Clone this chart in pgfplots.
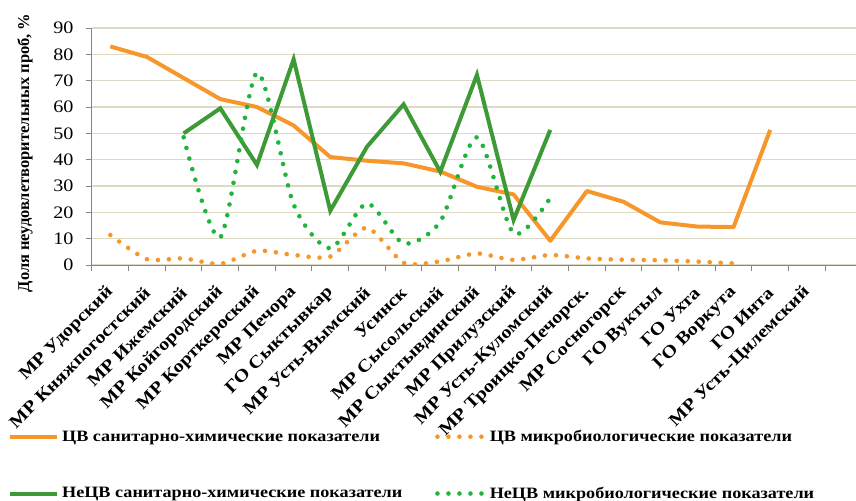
\documentclass[border=0pt]{standalone}
\usepackage{fontspec}
\setmainfont[FakeStretch=1.15]{Liberation Serif}
\newfontfamily\plainserif{Liberation Serif}
\usepackage{pgfplots}
\pgfplotsset{compat=1.18}
\definecolor{corange}{HTML}{F7962A}
\definecolor{cgreen}{HTML}{3E9A36}
\definecolor{cgreendot}{HTML}{1FB43C}
\definecolor{cgrid}{HTML}{DDD9C3}
\definecolor{caxis}{HTML}{868686}
\begin{document}
\begin{tikzpicture}
\useasboundingbox (-92bp,-236bp) rectangle (764bp,265bp);
\begin{axis}[
  at={(0,0)}, anchor=south west,
  scale only axis, width=764bp, height=237bp,
  xmin=0, xmax=20.84, ymin=0, ymax=90,
  axis x line*=bottom, axis y line*=left,
  axis line style={caxis, line width=1bp, -},
  ytick={0,10,...,90},
  ymajorgrids, grid style={cgrid, line width=1.2bp},
  xtick={0,1,...,20},
  x tick label as interval,
  xticklabels={МР Удорский, МР Княжпогостский, МР Ижемский, МР Койгородский, МР Корткероский, МР Печора, ГО Сыктывкар, МР Усть-Вымский, Усинск, МР Сысольский, МР Сыктывдинский, МР Прилузский, МР Усть-Куломский, МР Троицко-Печорск., МР Сосногорск, ГО Вуктыл, ГО Ухта, ГО Воркута, ГО Инта, МР Усть-Цилемский},
  major tick length=6bp,
  tick align=outside,
  tick style={caxis, line width=1bp},
  /pgf/number format/assume math mode=true,
  yticklabel={\mbox{\fontsize{17.5bp}{20bp}\selectfont\pgfmathprintnumber{\tick}}\kern9bp},
  xticklabel style={font=\bfseries\fontsize{17.5bp}{20bp}\selectfont, yshift=-18bp, xshift=1bp, rotate=45, anchor=east, inner sep=1bp},
  ylabel={Доля неудовлетворительных проб, \%},
  ylabel style={font=\plainserif\bfseries\fontsize{16.5bp}{19bp}\selectfont, at={(axis description cs:-0.0877,0.473)}, anchor=center},
  legend columns=2,
  legend cell align=left,
  legend image code/.code={\draw[#1] (0bp,0bp) -- (47bp,0bp);},
  legend style={at={(axis description cs:-0.110,-0.684)}, anchor=north west, draw=none, fill=none,
    font=\bfseries\fontsize{15.8bp}{18bp}\selectfont, inner sep=0pt, row sep=38bp,
    nodes={inner sep=3bp}},
]
\addplot[corange, line width=4bp, line join=round]
  coordinates {(0.5,83) (1.5,79) (2.5,71) (3.5,63) (4.5,60) (5.5,53) (6.5,41) (7.5,39.6) (8.5,38.6) (9.5,35.5) (10.5,29.7) (11.5,26.8) (12.5,9.2) (13.5,28.1) (14.5,24) (15.5,16.2) (16.5,14.6) (17.5,14.4) (18.5,51.3)};
\addlegendentry{\makebox[370bp][l]{ЦВ санитарно-химические показатели}}
\addplot[corange, line width=4.6bp, dash pattern=on 0pt off 11bp, line cap=round, smooth, tension=0.4]
  coordinates {(0.5,11.4) (1.5,2.2) (2.5,2.5) (3.5,0.4) (4.5,5.4) (5.5,3.8) (6.5,3.2) (7.5,14.2) (8.5,0.8) (9.5,1.4) (10.5,4.4) (11.5,1.9) (12.5,3.8) (13.5,2.5) (14.5,2.0) (15.5,1.8) (16.5,1.3) (17.5,0.6)};
\addlegendentry{ЦВ микробиологические показатели}
\addplot[cgreen, line width=4bp, line join=miter]
  coordinates {(2.5,50) (3.5,59.5) (4.5,38) (5.5,78.1) (6.5,20.6) (7.5,44.9) (8.5,61) (9.5,35.4) (10.5,72.2) (11.5,17.1) (12.5,51.3)};
\addlegendentry{\makebox[370bp][l]{НеЦВ санитарно-химические показатели}}
\addplot[cgreendot, line width=4.6bp, dash pattern=on 0pt off 11bp, line cap=round, smooth, tension=0.45]
  coordinates {(2.5,48.5) (3.5,10.5) (4.5,73) (5.5,23) (6.5,6.3) (7.5,23.4) (8.5,8.2) (9.5,16.5) (10.5,48.5) (11.5,12) (12.5,25.5)};
\addlegendentry{НеЦВ микробиологические показатели}
\end{axis}
\end{tikzpicture}
\end{document}
